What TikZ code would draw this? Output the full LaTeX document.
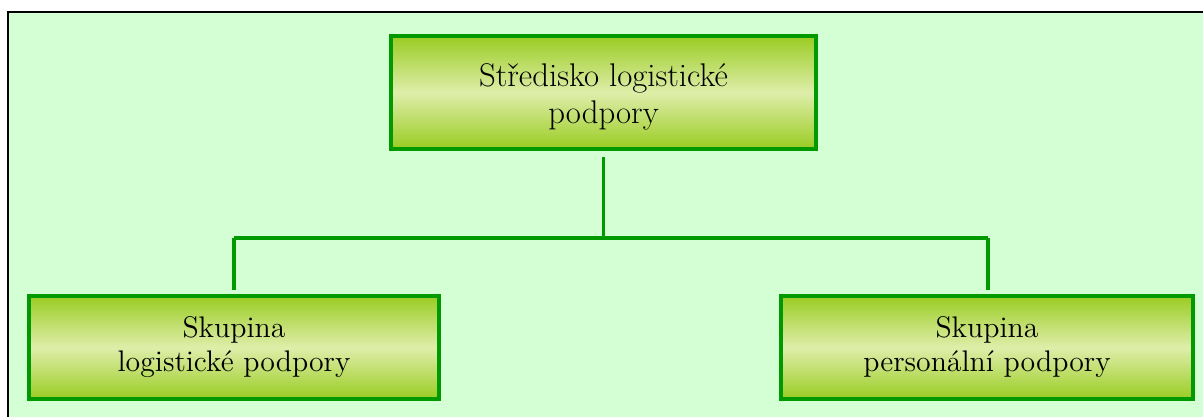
\documentclass[tikz,border=0pt]{standalone}
\usepackage{xcolor}
\usetikzlibrary{positioning}
\definecolor{panelbg}{HTML}{D4FFD4}
\definecolor{boxedge}{HTML}{009900}
\definecolor{boxlime}{HTML}{9ACC22}
\definecolor{boxpale}{HTML}{DEEEAA}

\begin{document}
\begin{tikzpicture}[x=0.5pt,y=-0.5pt,
        unit/.style={draw=boxedge,line width=2pt,top color=boxlime,bottom color=boxlime,middle color=boxpale,
            align=center,inner sep=0pt,font=\fontsize{14.9}{17}\selectfont},
        link/.style={draw=boxedge,line width=1.6pt}]
        \useasboundingbox (0,0) rectangle (1203,417);
        \fill[panelbg] (9,13) rectangle (1203,417);
        \draw[line width=1pt,black] (8,417) -- (8,12) -- (1203,12);
        \node[unit,font=\fontsize{16.4}{18.5}\selectfont,minimum width=212.5pt,minimum height=56.5pt] (centre) at (603.5,92.5) {\rule{0pt}{16pt}Středisko logistické\\podpory};
        \node[unit,minimum width=205pt,minimum height=51.5pt] (logist) at (234,347.5) {Skupina\\logistické podpory};
        \node[unit,minimum width=206pt,minimum height=51.5pt] (person) at (987,347.5) {Skupina\\personální podpory};
        \coordinate (busL) at (234,238);
        \coordinate (busR) at (988,238);
        \draw[link,shorten <=3pt] (centre.south) -- (centre.south |- busL);
        \draw[link] (busL) -- (busR);
        \draw[link,shorten >=2pt] (busL) -- (logist.north -| busL);
        \draw[link,shorten >=2pt] (busR) -- (person.north -| busR);
    \end{tikzpicture}
\end{document}
